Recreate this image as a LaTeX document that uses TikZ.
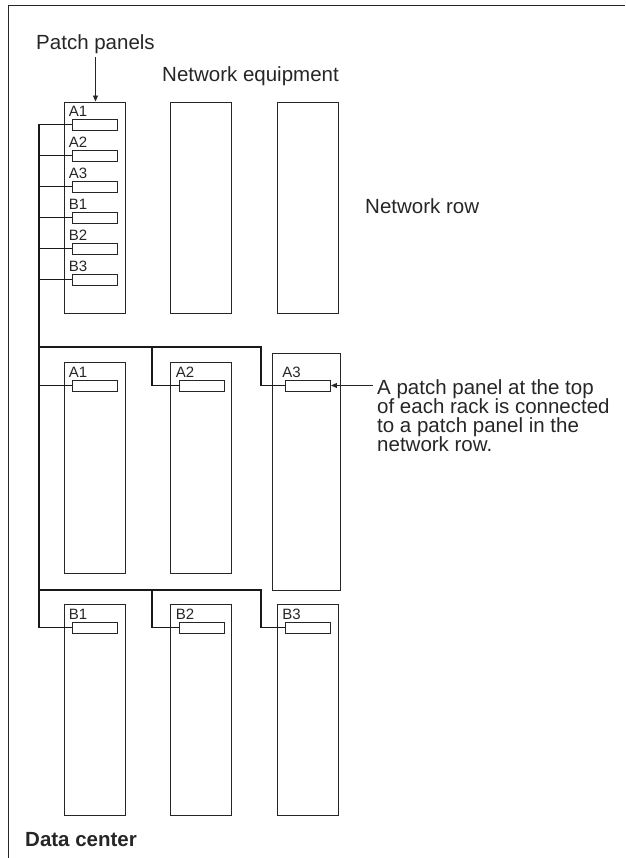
\documentclass[tikz,border=0pt]{standalone}
\usepackage{fontspec}
\setmainfont{Liberation Sans}
\usetikzlibrary{arrows.meta,positioning}
\newcommand\notefont{\fontsize{20.5}{19.3}\selectfont\lineskiplimit=-100pt\relax}

\begin{document}
\begin{tikzpicture}[x=1pt,y=-1pt,>={Triangle[length=6pt,width=5pt]},
  font=\fontsize{20.5}{17.5}\selectfont,
  rack/.style={draw=black!85,line width=0.9pt,inner sep=0pt,minimum width=61pt,minimum height=211pt},
  panel/.style={draw=black!85,line width=0.9pt,inner sep=0pt,minimum width=45pt,minimum height=11pt},
  tag/.style={anchor=base west,inner sep=0pt,font=\fontsize{15}{15}\selectfont,text=black!85},
  wire/.style={line width=1.6pt,black!90},
  pointer/.style={->,black!85,line width=0.9pt},
  lbl/.style={inner sep=0pt,text=black!85}]
\useasboundingbox (0,0) rectangle (625,858);
\draw[line width=1pt,black!85] (625,6) -- (8,6) -- (8,858);

% network row
\node[rack] (net1) at (94.5,207.5) {};
\node[rack] (net2) at (201,207.5) {};
\node[rack] (net3) at (307.5,207.5) {};
\node[lbl,anchor=base] (lblpp) at (95.5,50) {Patch panels};
\node[lbl,anchor=base west] (lblnet) at (162,82) {Network equipment};
\node[lbl,anchor=base west] (lblrow) at (365,214) {Network row};
\draw[pointer,shorten <=3pt] (lblpp) -- (lblpp |- net1.north);

% server racks
\node[rack] (rA1) at (94.5,467.5) {};
\node[rack] (rA2) at (201,467.5) {};
\node[rack,minimum width=68pt,minimum height=237pt] (rA3) at (306,471.5) {};
\node[rack] (rB1) at (94.5,710) {};
\node[rack] (rB2) at (201,710) {};
\node[rack] (rB3) at (307.5,710) {};

% patch panels
\foreach \t [count=\i from 0] in {A1,A2,A3,B1,B2,B3}{
  \node[panel] (pp\t) at (94.5,124.5+31*\i) {};
  \node[tag] (tpp\t) at ([xshift=-3pt,yshift=2.5pt]pp\t.north west) {\t};
}
\foreach \t/\x/\y in {A1/94.5/385.5,A2/201.5/385.5,A3/308/385.5,B1/94.5/627.5,B2/201.5/627.5,B3/308/627.5}{
  \node[panel] (p\t) at (\x,\y) {};
  \node[tag] (t\t) at ([xshift=-3pt,yshift=2.5pt]p\t.north west) {\t};
}

% cabling
\coordinate (bus) at (39,0);
\coordinate (splitA) at (152,347);
\coordinate (dropA) at (261,347);
\coordinate (splitB) at (152,590);
\coordinate (dropB) at (261,590);
\draw[wire] (ppA1.west) -| (bus |- pB1.west) -- (pB1.west);
\foreach \t in {A2,A3,B1,B2,B3}
  \draw[wire] (pp\t.west) -- (pp\t.west -| bus);
\draw[wire] (bus |- pA1.west) -- (pA1.west);
\draw[wire] (bus |- dropA) -- (dropA) |- (pA3.west);
\draw[wire] (splitA) |- (pA2.west);
\draw[wire] (bus |- dropB) -- (dropB) |- (pB3.west);
\draw[wire] (splitB) |- (pB2.west);

\node[lbl,anchor=north west,align=left,font=\notefont] (note) at (377,379)
  {A patch panel at the top\\of each rack is connected\\to a patch panel in the\\network row.};
\draw[pointer] ([xshift=-4pt]note.west |- pA3.east) -- (pA3.east);

\node[lbl,anchor=base west,font=\fontsize{20.5}{20}\selectfont\bfseries] (dc) at (25,846) {Data center};
\end{tikzpicture}
\end{document}
